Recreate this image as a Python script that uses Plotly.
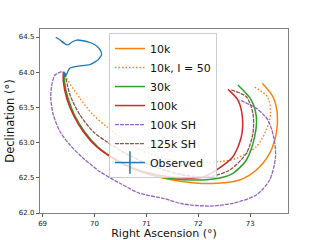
import plotly.graph_objects as go

# ---- data (RA, Dec in degrees) ----
obs_ra = [69.254, 69.337, 69.394, 69.372, 69.452, 69.496, 69.567, 69.658, 69.779, 69.913, 70.010, 70.106,
          70.138, 70.073, 69.913, 69.779, 69.658, 69.529, 69.490, 69.465, 69.433, 69.413, 69.404, 69.440]
obs_dec = [64.496, 64.457, 64.415, 64.440, 64.393, 64.391, 64.429, 64.457, 64.447, 64.422, 64.391, 64.320,
           64.249, 64.178, 64.107, 64.095, 64.084, 64.060, 64.017, 63.974, 63.946, 64.003, 63.960, 63.980]

k10_ra = [69.413, 69.413, 69.481, 69.606, 69.798, 70.058, 70.375, 70.760, 71.067, 71.452, 71.933, 72.356,
          72.798, 73.119, 73.375, 73.504, 73.523, 73.438, 73.235]
k10_dec = [64.003, 63.861, 63.629, 63.392, 63.155, 62.938, 62.770, 62.625, 62.547, 62.476, 62.426, 62.422,
           62.469, 62.611, 62.848, 63.132, 63.416, 63.652, 63.842]

k10i50_ra = [69.413, 69.465, 69.721, 69.977, 70.235, 70.490, 70.779, 71.067, 71.452, 71.894, 72.356, 72.735,
             73.119, 73.312, 73.394, 73.337, 73.054]
k10i50_dec = [64.003, 63.913, 63.629, 63.392, 63.226, 63.080, 62.938, 62.838, 62.753, 62.710, 62.724, 62.777,
              62.942, 63.179, 63.420, 63.648, 63.804]

k30_ra = [69.423, 69.423, 69.490, 69.615, 69.808, 70.067, 70.394, 70.779, 71.067, 71.452, 72.029, 72.413,
          72.669, 72.927, 73.087, 73.119, 73.023, 72.765]
k30_dec = [64.000, 63.861, 63.629, 63.392, 63.155, 62.938, 62.767, 62.618, 62.547, 62.490, 62.469, 62.497,
           62.564, 62.753, 63.084, 63.368, 63.605, 63.818]

k100_ra = [69.400, 69.400, 69.465, 69.592, 69.785, 70.042, 70.362, 70.746, 71.067, 71.452, 71.894, 72.125,
           72.350, 72.669, 72.831, 72.850, 72.765, 72.573]
k100_dec = [64.007, 63.865, 63.629, 63.392, 63.155, 62.942, 62.777, 62.635, 62.564, 62.511, 62.497, 62.518,
            62.611, 62.800, 63.084, 63.368, 63.605, 63.757]

k100sh_ra = [69.369, 69.240, 69.177, 69.158, 69.208, 69.337, 69.529, 69.785, 70.106, 70.490, 70.875, 71.323,
             71.708, 72.221, 72.669, 73.119, 73.375, 73.490, 73.452, 73.342, 73.119, 72.798]
k100sh_dec = [64.007, 63.960, 63.818, 63.629, 63.392, 63.155, 62.966, 62.777, 62.587, 62.422, 62.280, 62.209,
              62.128, 62.099, 62.138, 62.256, 62.469, 62.800, 63.084, 63.321, 63.487, 63.605]

k125sh_ra = [69.433, 69.529, 69.721, 69.977, 70.235, 70.587, 71.067, 71.708, 72.221, 72.606, 72.927, 73.054,
             73.054, 72.927, 72.638]
k125sh_dec = [63.984, 63.676, 63.392, 63.155, 63.013, 62.852, 62.682, 62.540, 62.516, 62.611, 62.848, 63.132,
              63.416, 63.652, 63.747]

x_ticks = [69, 70, 71, 72, 73]
y_ticks = [62.0, 62.5, 63.0, 63.5, 64.0, 64.5]

C_BLUE, C_ORANGE, C_GREEN, C_RED, C_PURPLE, C_BROWN = (
    "#1f77b4", "#ff7f0e", "#2ca02c", "#d62728", "#9467bd", "#8c564b")

fig = go.Figure()

def add(x, y, name, color, dash="solid", width=1.5):
    fig.add_trace(go.Scatter(x=x, y=y, name=name, mode="lines",
                             line=dict(color=color, width=width, dash=dash,
                                       shape="spline", smoothing=0.8)))

add(k10_ra, k10_dec, "10k", C_ORANGE)
add(k10i50_ra, k10i50_dec, "10k, I = 50", C_ORANGE, dash="1.5px,2px", width=1.4)
add(k30_ra, k30_dec, "30k", C_GREEN)
add(k100_ra, k100_dec, "100k", C_RED)
add(k100sh_ra, k100sh_dec, "100k SH", C_PURPLE, dash="4px,1px", width=1.3)
add(k125sh_ra, k125sh_dec, "125k SH", C_BROWN, dash="4px,1px", width=1.3)

fig.add_trace(go.Scatter(x=obs_ra, y=obs_dec, mode="lines", showlegend=False,
                         legendgroup="obs",
                         line=dict(color=C_BLUE, width=1.3, shape="spline", smoothing=0.5)))
fig.add_trace(go.Scatter(x=[None], y=[None], name="Observed", legendgroup="obs",
                         mode="lines+markers",
                         line=dict(color=C_BLUE, width=1.5),
                         marker=dict(symbol="line-ns", size=16, color=C_BLUE,
                                     line=dict(color=C_BLUE, width=1.5))))

axis_common = dict(showgrid=False, zeroline=False, showline=True, mirror=True,
                   linecolor="#808080", linewidth=1.3, ticks="outside", ticklen=3,
                   tickwidth=1, tickcolor="#555555",
                   tickfont=dict(family="DejaVu Sans", size=7, color="#222222"))

fig.update_layout(
    width=320, height=240,
    margin=dict(l=40, r=32, t=29, b=27, autoexpand=False),
    paper_bgcolor="white", plot_bgcolor="white",
    font=dict(family="DejaVu Sans", color="#111111"),
    xaxis=dict(range=[68.95, 73.73], tickvals=x_ticks, ticktext=[str(v) for v in x_ticks],
               title=dict(text="Right Ascension (°)", font=dict(size=11), standoff=5),
               **axis_common),
    yaxis=dict(range=[62.0, 64.614], tickvals=y_ticks, ticktext=[f"{v:.1f}" for v in y_ticks],
               title=dict(text="Declination (°)", font=dict(size=11.5), standoff=1),
               **axis_common),
    legend=dict(x=0.278, y=0.978, xanchor="left", yanchor="top",
                bgcolor="rgba(255,255,255,0.8)", bordercolor="#cccccc", borderwidth=1,
                font=dict(size=11, family="DejaVu Sans", color="#111111"),
                tracegroupgap=0, itemwidth=30),
    showlegend=True,
)

fig.write_html("out.html", config={"displayModeBar": False},
               post_script="document.body.style.margin='0';")
